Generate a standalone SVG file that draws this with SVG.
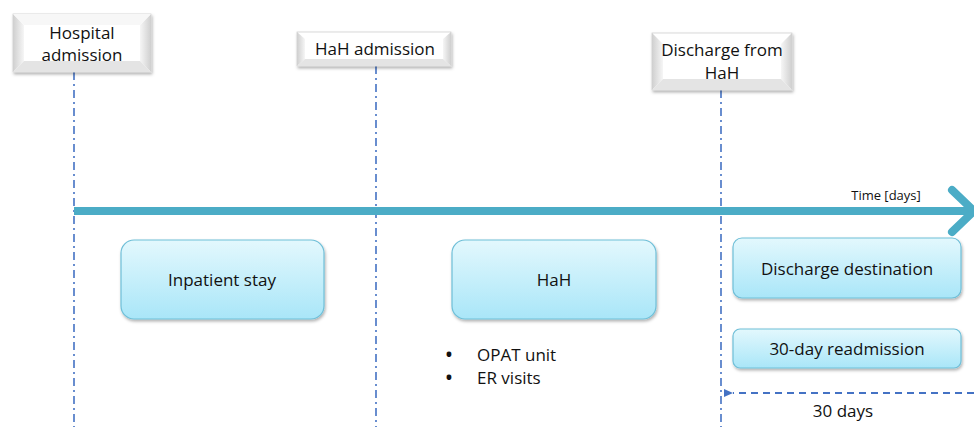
<svg xmlns="http://www.w3.org/2000/svg" width="974" height="427" viewBox="0 0 974 427">
<defs>
<linearGradient id="g" x1="0" y1="0" x2="0" y2="1">
<stop offset="0" stop-color="#e3f8fd"/>
<stop offset="1" stop-color="#a9e6f8"/>
</linearGradient>
<linearGradient id="bl" x1="0" y1="0" x2="1" y2="0">
<stop offset="0" stop-color="#cfcfcf"/>
<stop offset="1" stop-color="#f6f6f6"/>
</linearGradient>
<linearGradient id="br" x1="1" y1="0" x2="0" y2="0">
<stop offset="0" stop-color="#cfcfcf"/>
<stop offset="1" stop-color="#f6f6f6"/>
</linearGradient>
<filter id="sh" x="-10%" y="-10%" width="130%" height="140%">
<feDropShadow dx="1" dy="2" stdDeviation="1.5" flood-color="#000" flood-opacity="0.3"/>
</filter>
<marker id="ah" viewBox="0 0 10 10" refX="1" refY="5" markerWidth="10" markerHeight="10" markerUnits="userSpaceOnUse" orient="auto">
<path d="M10,1 L1,5 L10,9 Z" fill="#4472c4"/>
</marker>
</defs>
<style>
text{font-family:"Open Sans","Liberation Sans",sans-serif;fill:#111;text-anchor:middle}
.t{font-size:17px}
.l{text-anchor:start}
.vl{stroke:#4472c4;stroke-width:1.6;stroke-dasharray:8 4 2 4;fill:none}
.st{fill:url(#g);stroke:#6fbfd8;stroke-width:1.2;filter:url(#sh)}
.bv{fill:#fff;stroke:#d0d0d0;stroke-width:0.8;filter:url(#sh)}
</style>
<rect width="974" height="427" fill="#fff"/>
<g id="connectors">
<line class="vl" x1="74" y1="72" x2="74" y2="427"/>
<line class="vl" x1="376" y1="66" x2="376" y2="427"/>
<line class="vl" x1="721" y1="90" x2="721" y2="427"/>
<line x1="74" y1="211" x2="974" y2="211" stroke="#4bacc6" stroke-width="8"/>
<polyline points="952,190 974,211 952,232" fill="none" stroke="#4bacc6" stroke-width="8" stroke-linecap="round" stroke-linejoin="round"/>
<line x1="974" y1="393" x2="733" y2="393" stroke="#4472c4" stroke-width="2" stroke-dasharray="7 5" marker-end="url(#ah)"/>
<text x="886" y="200" style="font-size:13px">Time [days]</text>
<text x="843" y="417" class="t">30 days</text>
</g>
<g id="hospital-admission">
<rect class="bv" x="13" y="14" width="138" height="58"/>
<polygon points="13,14 24,25 24,61 13,72" fill="url(#bl)"/>
<polygon points="151,14 140,25 140,61 151,72" fill="url(#br)"/>
<polygon points="13,14 151,14 140,25 24,25" fill="#f7f7f7"/>
<polygon points="13,72 151,72 140,61 24,61" fill="#e4e4e4"/>
<rect x="24" y="25" width="116" height="36" fill="#fff"/>
<text x="82" y="39" class="t">Hospital</text>
<text x="82" y="61" class="t">admission</text>
</g>
<g id="hah-admission">
<rect class="bv" x="297" y="32" width="154" height="34"/>
<polygon points="297,32 305,39 305,59 297,66" fill="url(#bl)"/>
<polygon points="451,32 443,39 443,59 451,66" fill="url(#br)"/>
<polygon points="297,66 451,66 443,59 305,59" fill="#e4e4e4"/>
<rect x="305" y="39" width="138" height="20" fill="#fff"/>
<text x="375" y="55" class="t">HaH admission</text>
</g>
<g id="discharge-from-hah">
<rect class="bv" x="652" y="33" width="140" height="57"/>
<polygon points="652,33 663,44 663,79 652,90" fill="url(#bl)"/>
<polygon points="792,33 781,44 781,79 792,90" fill="url(#br)"/>
<polygon points="652,90 792,90 781,79 663,79" fill="#e4e4e4"/>
<rect x="663" y="44" width="118" height="35" fill="#fff"/>
<text x="722" y="56" class="t">Discharge from</text>
<text x="722" y="79" class="t">HaH</text>
</g>
<g id="inpatient-stay">
<rect class="st" x="121" y="240" width="203" height="79" rx="13"/>
<text x="222" y="286" class="t">Inpatient stay</text>
</g>
<g id="hah">
<rect class="st" x="452" y="240" width="204" height="79" rx="13"/>
<text x="554" y="286" class="t">HaH</text>
</g>
<g id="hah-notes">
<text x="449" y="361" class="t" style="font-weight:bold">•</text>
<text x="477" y="361" class="t l">OPAT unit</text>
<text x="449" y="384" class="t" style="font-weight:bold">•</text>
<text x="477" y="384" class="t l">ER visits</text>
</g>
<g id="discharge-destination">
<rect class="st" x="733" y="238" width="228" height="60" rx="9"/>
<text x="847" y="275" class="t">Discharge destination</text>
</g>
<g id="readmission">
<rect class="st" x="733" y="329" width="228" height="39" rx="7"/>
<text x="847" y="355" class="t">30-day readmission</text>
</g>
</svg>
